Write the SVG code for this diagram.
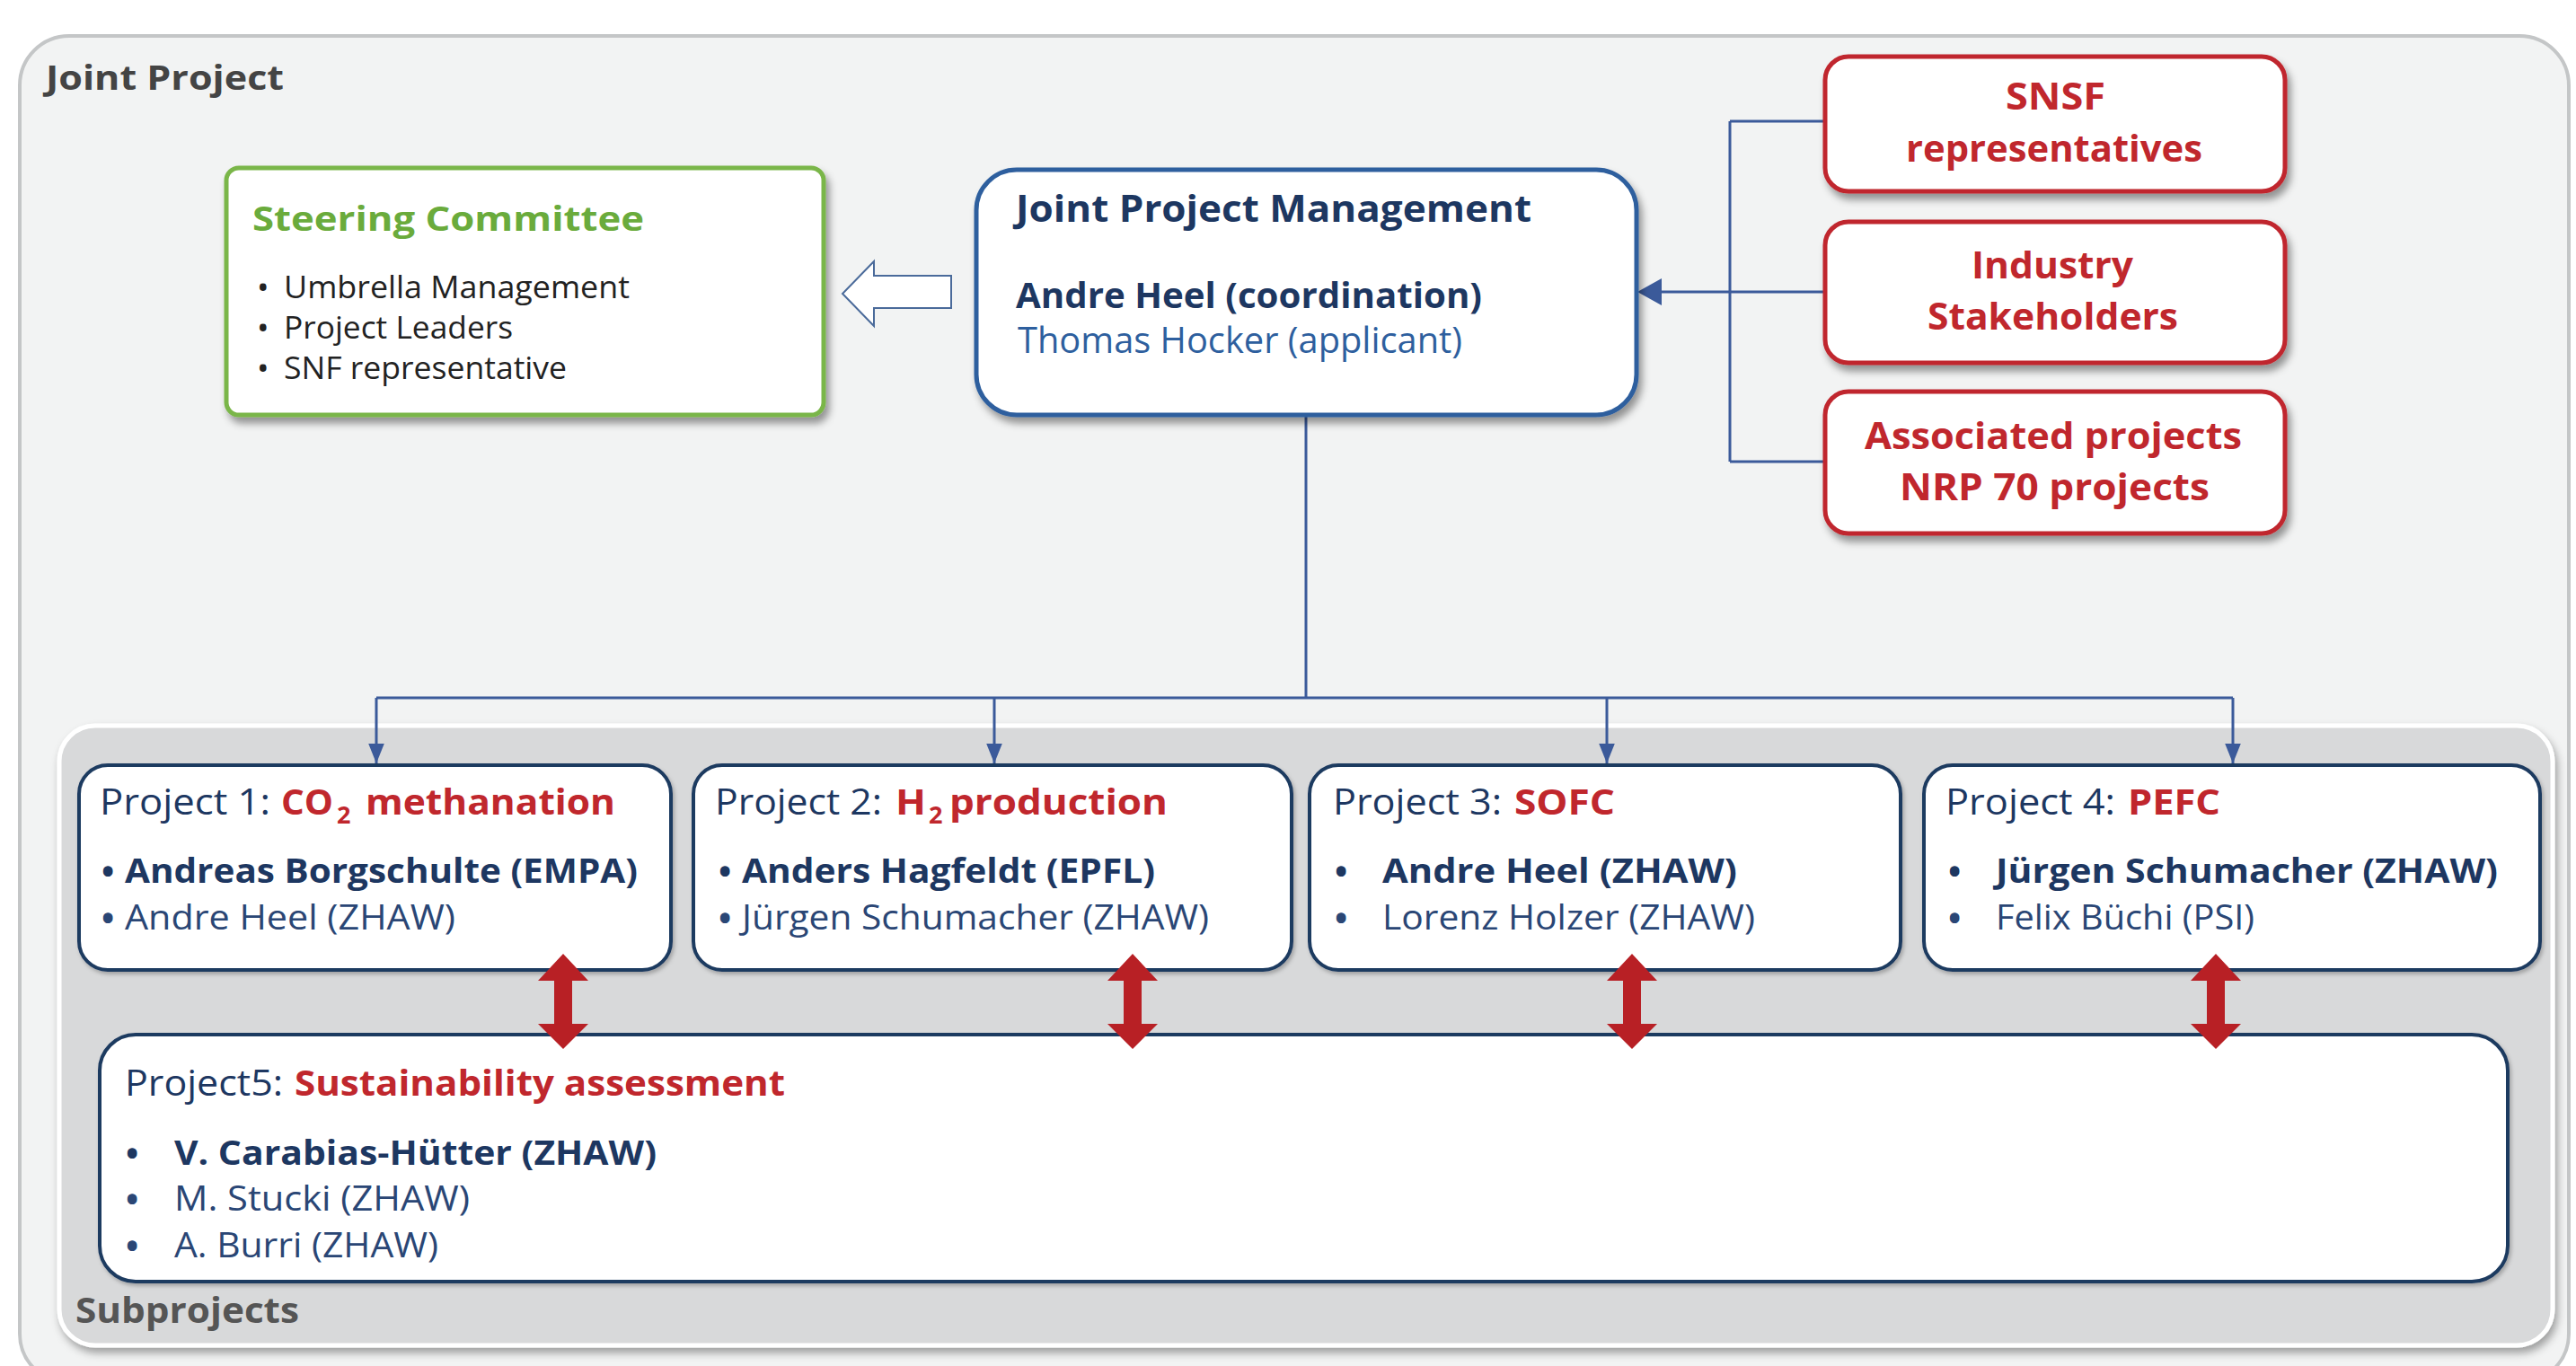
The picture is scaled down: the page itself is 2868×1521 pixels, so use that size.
<svg xmlns="http://www.w3.org/2000/svg" width="2868" height="1521" viewBox="0 0 2868 1521">
<defs>
<filter id="sh" x="-10%" y="-10%" width="130%" height="140%">
<feDropShadow dx="4" dy="7" stdDeviation="4" flood-color="#000" flood-opacity="0.4"/>
</filter>
<filter id="sh2" x="-5%" y="-5%" width="110%" height="115%">
<feDropShadow dx="3" dy="6" stdDeviation="5" flood-color="#000" flood-opacity="0.35"/>
</filter>
<filter id="sh3" x="-5%" y="-5%" width="110%" height="115%">
<feDropShadow dx="2" dy="3" stdDeviation="2" flood-color="#000" flood-opacity="0.25"/>
</filter>
<marker id="ab" viewBox="0 0 10 10" refX="10" refY="5" markerWidth="22" markerHeight="22" markerUnits="userSpaceOnUse" orient="auto">
<path d="M0,1 L10,5 L0,9 Z" fill="#3b5a9a"/>
</marker>
</defs>
<style>
text{font-family:"Open Sans","Noto Sans","Liberation Sans",sans-serif;}
.b{font-weight:700}
.navy{fill:#1d3761}
.reg{fill:#2a4675}
.red{fill:#c0272d}
.bul{font-size:38px;font-weight:700}
.pbox{fill:#fff;stroke:#1f3a60;stroke-width:4}
.rbox{fill:#fff;stroke:#c0272d;stroke-width:5}
.conn{fill:none;stroke:#3b5a9a;stroke-width:3}
.dbl{fill:#b82025}
</style>

<rect width="2868" height="1521" fill="#fff"/>

<!-- outer Joint Project container -->
<g id="joint-project">
<rect x="22" y="40" width="2838" height="1500" rx="55" fill="#f2f3f3" stroke="#c4c6c7" stroke-width="4"/>
<text x="51" y="100" class="b" font-size="38" fill="#444" textLength="265" lengthAdjust="spacingAndGlyphs">Joint Project</text>
</g>

<!-- Subprojects container -->
<g id="subprojects">
<rect x="66" y="808" width="2776" height="690" rx="40" fill="#d8d9da" stroke="#fff" stroke-width="5" filter="url(#sh2)"/>
<text x="84" y="1473" class="b" font-size="40" fill="#555" textLength="249" lengthAdjust="spacingAndGlyphs">Subprojects</text>
</g>

<!-- connectors -->
<g id="connectors">
<path class="conn" d="M1926,135 L1926,514 M1926,135 L2032,135 M1926,514 L2032,514 M2032,325 L1850,325"/>
<path d="M1823,325 L1850,310 L1850,340 Z" fill="#3b5a9a"/>
<path class="conn" d="M1454,462 L1454,777 M419,777 L2486,777"/>
<path class="conn" d="M419,777 L419,850" marker-end="url(#ab)"/>
<path class="conn" d="M1107,777 L1107,850" marker-end="url(#ab)"/>
<path class="conn" d="M1789,777 L1789,850" marker-end="url(#ab)"/>
<path class="conn" d="M2486,777 L2486,850" marker-end="url(#ab)"/>
<!-- hollow arrow JPM -> Steering -->
<path d="M1059,307 L973,307 L973,291 L938,327 L973,363 L973,343 L1059,343 Z" fill="#fff" stroke="#4a6a9a" stroke-width="2"/>
</g>

<!-- Steering Committee -->
<g id="steering-committee">
<rect x="252" y="187" width="665" height="275" rx="14" fill="#fff" stroke="#7ab648" stroke-width="5" filter="url(#sh)"/>
<text x="281" y="257" class="b" font-size="38" fill="#6aab3c" textLength="436" lengthAdjust="spacingAndGlyphs">Steering Committee</text>
<text x="286" y="333" font-size="36" fill="#222">•</text>
<text x="316" y="332" font-size="35" fill="#222" textLength="385" lengthAdjust="spacingAndGlyphs">Umbrella Management</text>
<text x="286" y="378" font-size="36" fill="#222">•</text>
<text x="316" y="377" font-size="35" fill="#222" textLength="255" lengthAdjust="spacingAndGlyphs">Project Leaders</text>
<text x="286" y="423" font-size="36" fill="#222">•</text>
<text x="316" y="422" font-size="35" fill="#222" textLength="315" lengthAdjust="spacingAndGlyphs">SNF representative</text>
</g>

<!-- Joint Project Management -->
<g id="joint-project-management">
<rect x="1087" y="189" width="735" height="273" rx="45" fill="#fff" stroke="#2e5f9e" stroke-width="5" filter="url(#sh)"/>
<text x="1131" y="247" class="b navy" font-size="41" textLength="574" lengthAdjust="spacingAndGlyphs">Joint Project Management</text>
<text x="1131" y="343" class="b navy" font-size="40" textLength="519" lengthAdjust="spacingAndGlyphs">Andre Heel (coordination)</text>
<text x="1133" y="393" font-size="40" fill="#2e5f9e" textLength="495" lengthAdjust="spacingAndGlyphs">Thomas Hocker (applicant)</text>
</g>

<!-- Red stakeholder boxes -->
<g id="snsf">
<rect x="2032" y="63" width="512" height="150" rx="26" class="rbox" filter="url(#sh)"/>
<text x="2233" y="122" class="b red" font-size="42" textLength="111" lengthAdjust="spacingAndGlyphs">SNSF</text>
<text x="2122" y="180" class="b red" font-size="42" textLength="330" lengthAdjust="spacingAndGlyphs">representatives</text>
</g>
<g id="industry">
<rect x="2032" y="247" width="512" height="157" rx="26" class="rbox" filter="url(#sh)"/>
<text x="2195" y="310" class="b red" font-size="42" textLength="180" lengthAdjust="spacingAndGlyphs">Industry</text>
<text x="2146" y="367" class="b red" font-size="42" textLength="279" lengthAdjust="spacingAndGlyphs">Stakeholders</text>
</g>
<g id="associated">
<rect x="2032" y="436" width="512" height="158" rx="26" class="rbox" filter="url(#sh)"/>
<text x="2076" y="500" class="b red" font-size="42" textLength="420" lengthAdjust="spacingAndGlyphs">Associated projects</text>
<text x="2115" y="557" class="b red" font-size="42" textLength="345" lengthAdjust="spacingAndGlyphs">NRP 70 projects</text>
</g>

<!-- Project 1 -->
<g id="project1">
<rect x="88" y="852" width="659" height="228" rx="32" class="pbox" filter="url(#sh3)"/>
<text x="111" y="907" class="navy" font-size="40" textLength="190" lengthAdjust="spacingAndGlyphs">Project 1:</text>
<text x="313" y="907" class="b red" font-size="40" textLength="58" lengthAdjust="spacingAndGlyphs">CO</text>
<text x="375" y="917" class="b red" font-size="27">2</text>
<text x="407" y="907" class="b red" font-size="40" textLength="278" lengthAdjust="spacingAndGlyphs">methanation</text>
<text x="113" y="984" class="navy bul">•</text>
<text x="139" y="983" class="b navy" font-size="38" textLength="571" lengthAdjust="spacingAndGlyphs">Andreas Borgschulte (EMPA)</text>
<text x="113" y="1036" class="reg bul">•</text>
<text x="139" y="1035" class="reg" font-size="38" textLength="368" lengthAdjust="spacingAndGlyphs">Andre Heel (ZHAW)</text>
</g>

<!-- Project 2 -->
<g id="project2">
<rect x="772" y="852" width="666" height="228" rx="32" class="pbox" filter="url(#sh3)"/>
<text x="796" y="907" class="navy" font-size="40" textLength="186" lengthAdjust="spacingAndGlyphs">Project 2:</text>
<text x="997" y="907" class="b red" font-size="40" textLength="34" lengthAdjust="spacingAndGlyphs">H</text>
<text x="1034" y="917" class="b red" font-size="27">2</text>
<text x="1057" y="907" class="b red" font-size="40" textLength="243" lengthAdjust="spacingAndGlyphs">production</text>
<text x="800" y="984" class="navy bul">•</text>
<text x="826" y="983" class="b navy" font-size="38" textLength="460" lengthAdjust="spacingAndGlyphs">Anders Hagfeldt (EPFL)</text>
<text x="800" y="1036" class="reg bul">•</text>
<text x="826" y="1035" class="reg" font-size="38" textLength="520" lengthAdjust="spacingAndGlyphs">Jürgen Schumacher (ZHAW)</text>
</g>

<!-- Project 3 -->
<g id="project3">
<rect x="1458" y="852" width="658" height="228" rx="32" class="pbox" filter="url(#sh3)"/>
<text x="1484" y="907" class="navy" font-size="40" textLength="188" lengthAdjust="spacingAndGlyphs">Project 3:</text>
<text x="1686" y="907" class="b red" font-size="40" textLength="112" lengthAdjust="spacingAndGlyphs">SOFC</text>
<text x="1486" y="984" class="navy bul">•</text>
<text x="1539" y="983" class="b navy" font-size="38" textLength="395" lengthAdjust="spacingAndGlyphs">Andre Heel (ZHAW)</text>
<text x="1486" y="1036" class="reg bul">•</text>
<text x="1539" y="1035" class="reg" font-size="38" textLength="415" lengthAdjust="spacingAndGlyphs">Lorenz Holzer (ZHAW)</text>
</g>

<!-- Project 4 -->
<g id="project4">
<rect x="2142" y="852" width="686" height="228" rx="32" class="pbox" filter="url(#sh3)"/>
<text x="2166" y="907" class="navy" font-size="40" textLength="189" lengthAdjust="spacingAndGlyphs">Project 4:</text>
<text x="2369" y="907" class="b red" font-size="40" textLength="103" lengthAdjust="spacingAndGlyphs">PEFC</text>
<text x="2169" y="984" class="navy bul">•</text>
<text x="2222" y="983" class="b navy" font-size="38" textLength="559" lengthAdjust="spacingAndGlyphs">Jürgen Schumacher (ZHAW)</text>
<text x="2169" y="1036" class="reg bul">•</text>
<text x="2222" y="1035" class="reg" font-size="38" textLength="288" lengthAdjust="spacingAndGlyphs">Felix Büchi (PSI)</text>
</g>

<!-- Project 5 -->
<g id="project5">
<rect x="111" y="1152" width="2681" height="275" rx="40" class="pbox" filter="url(#sh3)"/>
<text x="139" y="1220" class="navy" font-size="40" textLength="176" lengthAdjust="spacingAndGlyphs">Project5:</text>
<text x="328" y="1220" class="b red" font-size="40" textLength="546" lengthAdjust="spacingAndGlyphs">Sustainability assessment</text>
<text x="140" y="1298" class="navy bul">•</text>
<text x="194" y="1297" class="b navy" font-size="38" textLength="537" lengthAdjust="spacingAndGlyphs">V. Carabias-Hütter (ZHAW)</text>
<text x="140" y="1349" class="reg bul">•</text>
<text x="194" y="1348" class="reg" font-size="38" textLength="329" lengthAdjust="spacingAndGlyphs">M. Stucki (ZHAW)</text>
<text x="140" y="1401" class="reg bul">•</text>
<text x="194" y="1400" class="reg" font-size="38" textLength="294" lengthAdjust="spacingAndGlyphs">A. Burri (ZHAW)</text>
</g>

<!-- red double arrows between subprojects and Project 5 -->
<g id="double-arrows">
<path class="dbl" d="M627,1062 L655,1092 L637,1092 L637,1140 L655,1140 L627,1168 L599,1140 L617,1140 L617,1092 L599,1092 Z"/>
<path class="dbl" d="M1261,1062 L1289,1092 L1271,1092 L1271,1140 L1289,1140 L1261,1168 L1233,1140 L1251,1140 L1251,1092 L1233,1092 Z"/>
<path class="dbl" d="M1817,1062 L1845,1092 L1827,1092 L1827,1140 L1845,1140 L1817,1168 L1789,1140 L1807,1140 L1807,1092 L1789,1092 Z"/>
<path class="dbl" d="M2467,1062 L2495,1092 L2477,1092 L2477,1140 L2495,1140 L2467,1168 L2439,1140 L2457,1140 L2457,1092 L2439,1092 Z"/>
</g>
</svg>
